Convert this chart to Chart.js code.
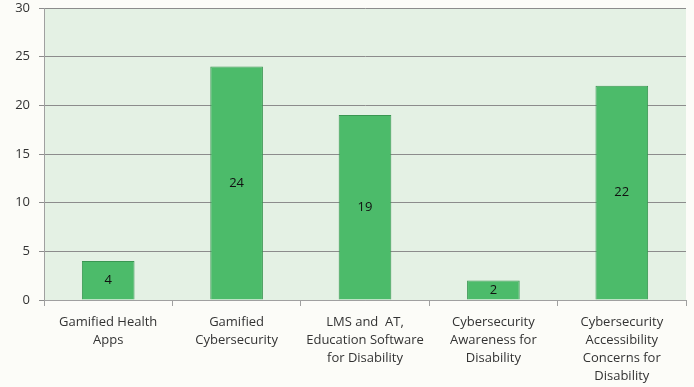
<!DOCTYPE html>
<html>
<head>
<meta charset="utf-8">
<script src="https://cdn.jsdelivr.net/npm/chart.js@4/dist/chart.umd.min.js"></script>
<style>
  html, body { margin: 0; padding: 0; background: #fcfcf8; }
  #wrap { width: 694px; height: 387px; }
</style>
</head>
<body>
<div id="wrap"><canvas id="chart" width="694" height="387"></canvas></div>
<script>
// ── Dados ──
const categories = [
  ['Gamified Health', 'Apps'],
  ['Gamified', 'Cybersecurity'],
  ['LMS and  AT,', 'Education Software', 'for Disability'],
  ['Cybersecurity', 'Awareness for', 'Disability'],
  ['Cybersecurity', 'Accessibility', 'Concerns for', 'Disability'],
];
const counts = [4, 24, 19, 2, 22];
const yTicks = [0, 5, 10, 15, 20, 25, 30];

const FONT = "'Open Sans', 'Noto Sans', sans-serif";

// fundo da área do gráfico
const plotBg = {
  id: 'plotBg',
  beforeDraw(chart) {
    const { ctx, chartArea: a } = chart;
    ctx.save();
    ctx.fillStyle = '#e4f1e4';
    ctx.fillRect(a.left, a.top, a.right - a.left, a.bottom - a.top);
    ctx.restore();
  }
};

// rótulos no centro das barras
const barLabels = {
  id: 'barLabels',
  afterDatasetsDraw(chart) {
    const { ctx } = chart;
    const meta = chart.getDatasetMeta(0);
    ctx.save();
    ctx.font = '13px ' + FONT;
    ctx.fillStyle = '#111';
    ctx.textAlign = 'center';
    ctx.textBaseline = 'middle';
    meta.data.forEach((bar, i) => {
      ctx.fillText(String(counts[i]), bar.x, (bar.y + bar.base) / 2);
    });
    ctx.restore();
  }
};

new Chart(document.getElementById('chart'), {
  type: 'bar',
  data: {
    labels: categories,
    datasets: [{
      data: counts,
      backgroundColor: '#4cbb6a',
      borderColor: '#3a9652',
      borderWidth: 1,
      borderSkipped: 'bottom',
      barPercentage: 0.41,
      categoryPercentage: 1,
    }]
  },
  options: {
    responsive: false,
    animation: false,
    layout: { padding: { top: 0, right: 8, left: 0, bottom: 0 } },
    plugins: { legend: { display: false }, tooltip: { enabled: false } },
    scales: {
      x: {
        grid: { display: true, drawOnChartArea: false, offset: true, color: '#a0a0a0', tickLength: 6 },
        border: { color: '#a0a0a0' },
        ticks: { color: '#333', font: { family: FONT, size: 13, lineHeight: 1.4 }, padding: 7, maxRotation: 0, autoSkip: false },
        afterFit(s) { s.height = 87; }
      },
      y: {
        min: 0, max: 30,
        afterBuildTicks(s) { s.ticks = yTicks.map(v => ({ value: v })); },
        grid: { color: '#8c8c8c', tickLength: 5 },
        border: { color: '#a0a0a0' },
        ticks: { color: '#333', font: { family: FONT, size: 13 }, padding: 9 },
        afterFit(s) { s.width = 44; s.paddingTop = 8; }
      }
    }
  },
  plugins: [plotBg, barLabels]
});
</script>
</body>
</html>
